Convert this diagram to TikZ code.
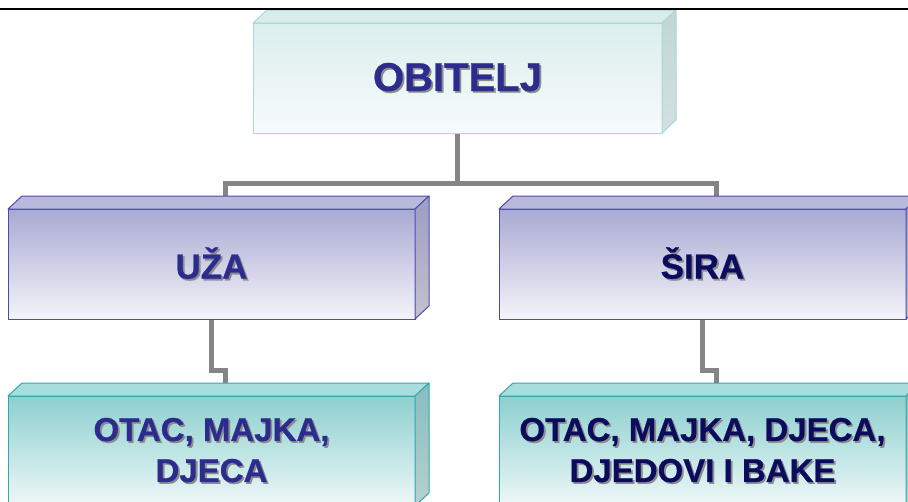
\documentclass[tikz,border=0pt]{standalone}
\usepackage{fontspec}
\setmainfont{Liberation Sans}
\newfontfamily\heavyfont[FakeBold=0.7]{Liberation Sans Bold}
\usetikzlibrary{calc,backgrounds}
\definecolor{connc}{HTML}{858585}
% top box colours
\definecolor{cyTop}{HTML}{DCEEEE}
\definecolor{cyBot}{HTML}{F7FBFB}
\definecolor{cyLid}{HTML}{D8ECEC}
\definecolor{cySideA}{HTML}{C2D6D6}
\definecolor{cySideB}{HTML}{D2E0E0}
\definecolor{cyEdge}{HTML}{A8D8D8}
% violet boxes
\definecolor{vTop}{HTML}{A9A9D3}
\definecolor{vBot}{HTML}{F4F4FA}
\definecolor{vLid}{HTML}{B9B9DE}
\definecolor{vSideA}{HTML}{9C9CC6}
\definecolor{vSideB}{HTML}{C2C2CC}
\definecolor{vEdge}{HTML}{4C4CB0}
% teal boxes
\definecolor{tTop}{HTML}{8DCFCF}
\definecolor{tBot}{HTML}{EFF8F8}
\definecolor{tLid}{HTML}{A9DDDD}
\definecolor{tSideA}{HTML}{86BDBD}
\definecolor{tSideB}{HTML}{B8D0D0}
\definecolor{tEdge}{HTML}{2FA9A9}
% text
\definecolor{txtA}{HTML}{2C2C8E}
\definecolor{txtB}{HTML}{0C0C5E}
\newcommand\shtxt[1]{\rlap{\kern1.8pt\raisebox{-1.8pt}{\textcolor{black!45}{#1}}}#1}
\newcommand\cubesides[5]{%
  \fill[#2,draw=#5,line width=1pt,line join=round] (#1.north west) -- ++(14,-13) -- ($(#1.north east)+(14,-13)$) -- (#1.north east) -- cycle;
  \shade[top color=#3,bottom color=#4,draw=#5,line width=1pt,line join=round] (#1.north east) -- ++(14,-13) -- ($(#1.south east)+(14,-13)$) -- (#1.south east) -- cycle;
}
\begin{document}
\begin{tikzpicture}[x=1pt,y=-1pt,
  face/.style={rectangle,minimum width=407pt,minimum height=110pt,inner sep=0pt,outer sep=0pt,line width=1pt,align=center},
  cyface/.style={face,draw=cyEdge,top color=cyTop,bottom color=cyBot},
  vface/.style={face,draw=vEdge,top color=vTop,bottom color=vBot},
  tface/.style={face,draw=tEdge,top color=tTop,bottom color=tBot},
  conn/.style={draw=connc,line width=5pt,line join=miter}]
\useasboundingbox (0,0) rectangle (908,501);
\clip (0,0) rectangle (908,501);
% boxes
\node[cyface,minimum width=409pt,text=txtA,font=\heavyfont\fontsize{40}{44}\selectfont] (obi) at (457.5,78) {\shtxt{OBITELJ}};
\cubesides{obi}{cyLid}{cySideA}{cySideB}{cyEdge}
\node[vface,text=txtA,font=\heavyfont\fontsize{35}{40}\selectfont] (uza) at (211.5,264) {\shtxt{UŽA}};
\cubesides{uza}{vLid}{vSideA}{vSideB}{vEdge}
\node[vface,text=txtB,font=\heavyfont\fontsize{35}{40}\selectfont] (sira) at (702.5,264) {\shtxt{ŠIRA}};
\cubesides{sira}{vLid}{vSideA}{vSideB}{vEdge}
\node[tface,text=txtA,font=\heavyfont\fontsize{33}{41}\selectfont] (uzl) at (211.5,451) {\shtxt{OTAC, MAJKA,}\\\shtxt{DJECA}};
\cubesides{uzl}{tLid}{tSideA}{tSideB}{tEdge}
\node[tface,text=txtB,font=\heavyfont\fontsize{33}{41}\selectfont] (sil) at (702.5,451) {\shtxt{OTAC, MAJKA, DJECA,}\\\shtxt{DJEDOVI I BAKE}};
\cubesides{sil}{tLid}{tSideA}{tSideB}{tEdge}
% connector end points at the back top edges
\coordinate (uzaT) at ($(uza.north)+(14,-13)$);
\coordinate (siraT) at ($(sira.north)+(14,-13)$);
\coordinate (uzlT) at ($(uzl.north)+(14,-13)$);
\coordinate (silT) at ($(sil.north)+(14,-13)$);
\begin{scope}[on background layer]
\draw[conn] (obi.south) -- ++(0,50) -| (uzaT);
\draw[conn] (obi.south) -- ++(0,50) -| (siraT);
\draw[conn] (uza.south) -- ++(0,51) -| (uzlT);
\draw[conn] (sira.south) -- ++(0,51) -| (silT);
\end{scope}
% top rule
\draw[line width=2.2pt] (0,9) -- (908,9);
\end{tikzpicture}
\end{document}
